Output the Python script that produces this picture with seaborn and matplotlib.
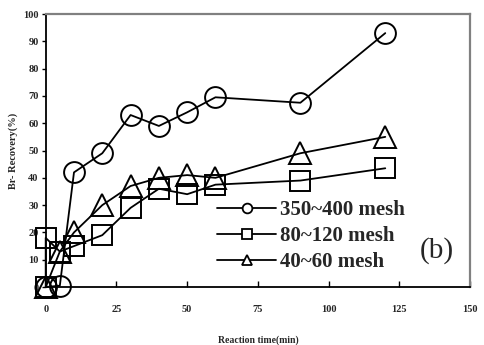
import matplotlib
matplotlib.use("Agg")
import matplotlib.pyplot as plt
import seaborn as sns
import pandas as pd

# ---- data ----
t_circle = [0, 5, 10, 20, 30, 40, 50, 60, 90, 120]
r_circle = [0, 0.5, 42, 49, 63, 59, 64, 69.5, 67.5, 93]

t_square = [0, 0, 5, 10, 20, 30, 40, 50, 60, 90, 120]
r_square = [0, 18, 13, 15, 19, 29, 36, 34, 37.5, 39, 43.5]

t_tri = [0, 5, 10, 20, 30, 40, 50, 60, 90, 120]
r_tri = [0, 13, 20, 30, 37, 40, 41, 40, 49, 55]

labels = ["350~400 mesh", "80~120 mesh", "40~60 mesh"]
x_ticks = [0, 25, 50, 75, 100, 125, 150]
y_ticks = [0, 10, 20, 30, 40, 50, 60, 70, 80, 90, 100]

sns.set_style("white")
plt.rcParams['font.family'] = ['Liberation Serif', 'DejaVu Serif']

fig = plt.figure(figsize=(4.84, 3.45), dpi=100)
ax = fig.add_axes([0.0944, 0.168, 0.877, 0.7914])

series = [(t_circle, r_circle, "o"), (t_square, r_square, "s"), (t_tri, r_tri, "^")]
handles = []
for (t, r, m), lab in zip(series, labels):
    df = pd.DataFrame({"t": t, "r": r})
    sns.lineplot(data=df, x="t", y="r", ax=ax, estimator=None, sort=False,
                 color="black", linewidth=1.3, marker=m, markersize=15 if m != "^" else 16,
                 markerfacecolor="none", markeredgecolor="black", markeredgewidth=1.4,
                 clip_on=False)
    h, = ax.plot([], [], color="black", linewidth=1.3, marker=m, markersize=7,
                 markerfacecolor="white", markeredgecolor="black", markeredgewidth=1.3)
    handles.append(h)

ax.set_xlim(0, 150)
ax.set_ylim(0, 100)
ax.set_xticks(x_ticks)
ax.set_yticks(y_ticks)
for lbl in ax.get_xticklabels() + ax.get_yticklabels():
    lbl.set_fontweight("bold")
    lbl.set_fontsize(7.5)

ax.tick_params(axis="x", direction="in", length=4, width=1, pad=13, color="black")
ax.tick_params(axis="y", direction="out", length=3, width=1, pad=2, color="black", left=True)
ax.tick_params(axis="x", bottom=True)

for s in ["left", "bottom"]:
    ax.spines[s].set_color("black")
    ax.spines[s].set_linewidth(1.3)
for s in ["top", "right"]:
    ax.spines[s].set_color("#808080")
    ax.spines[s].set_linewidth(1.6)

ax.set_xlabel("Reaction time(min)", fontsize=7, fontweight="bold", labelpad=15)
ax.set_ylabel("Br- Recovery(%)", fontsize=7.5, fontweight="bold", labelpad=4)

leg = ax.legend(handles, labels, loc="upper left", bbox_to_anchor=(0.385, 0.35),
                frameon=False, handlelength=2.8, handletextpad=0.2, labelspacing=0.3,
                prop={"family": "Liberation Serif", "weight": "bold", "size": 15},
                borderaxespad=0)

ax.text(0.921, 0.135, "(b)", transform=ax.transAxes, fontsize=21,
        ha="center", va="center")

fig.savefig("out.png", dpi=100)
